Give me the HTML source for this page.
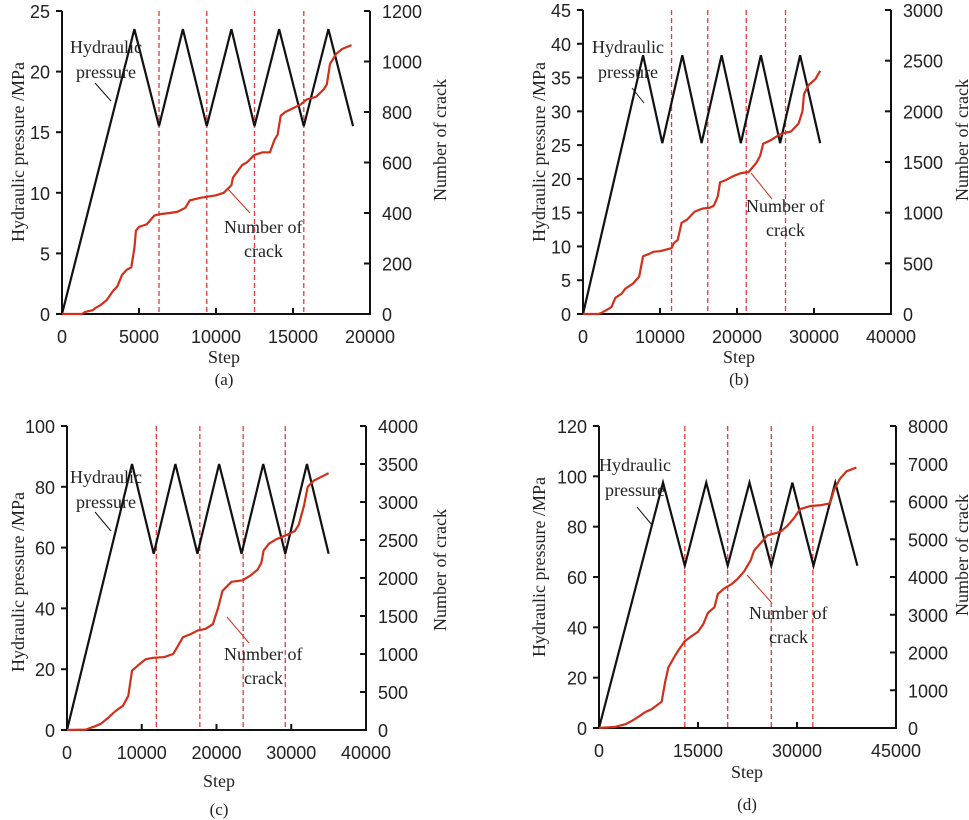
<!DOCTYPE html>
<html><head><meta charset="utf-8"><style>
html,body{margin:0;padding:0;background:#fff;}
svg{display:block;}
.tick{font-family:"Liberation Sans",Arial,sans-serif;font-size:18px;fill:#222;}
.ser{font-family:"Liberation Serif","Times New Roman",serif;fill:#222;}
</style></head><body>
<svg id="fig" width="969" height="820" viewBox="0 0 969 820" xmlns="http://www.w3.org/2000/svg"></svg>
<script>
// ---- data ----
const aPressX=[0,4700,6300,7850,9400,11000,12500,14100,15700,17300,18900];
const aPressY=[0,23.5,15.5,23.5,15.5,23.5,15.5,23.5,15.5,23.5,15.5];
const aCrackX=[0,1300,1500,2000,2200,2500,2900,3300,3600,3900,4200,4500,4700,4800,5000,5500,6000,6300,7000,7500,8000,8300,9000,10000,10500,11000,11100,11700,12000,12500,13000,13500,13800,14000,14200,14500,15000,15500,15900,16500,17000,17200,17400,17800,18200,18800];
const aCrackY=[0,0,8,15,25,35,55,90,110,155,175,185,260,330,345,355,390,395,400,405,420,450,460,470,480,510,540,590,600,630,640,640,690,710,785,800,815,830,850,860,890,910,990,1030,1050,1065];
const aDash=[6300,9400,12500,15700];
const aXTicks=[0,5000,10000,15000,20000];
const aYTicks=[0,5,10,15,20,25];
const aY2Ticks=[0,200,400,600,800,1000,1200];

const bPressX=[0,7800,10300,12900,15400,18000,20500,23100,25600,28200,30800];
const bPressY=[0,38.3,25.3,38.3,25.3,38.3,25.3,38.3,25.3,38.3,25.3];
const bCrackX=[0,2000,2500,3300,3700,4200,5000,5500,6500,7300,7800,8500,9200,10000,11000,11500,11800,12300,12800,13500,14500,15500,16500,17000,17500,17800,18500,19500,20500,21500,22500,23000,23400,24500,25500,26300,27000,28000,28500,28700,29300,30200,30800];
const bCrackY=[0,0,15,50,70,160,200,250,300,370,570,590,615,620,640,650,700,730,900,930,1010,1040,1050,1070,1160,1300,1320,1360,1390,1400,1490,1560,1680,1720,1770,1790,1800,1880,2000,2170,2260,2320,2400];
const bDash=[11500,16200,21200,26300];
const bXTicks=[0,10000,20000,30000,40000];
const bYTicks=[0,5,10,15,20,25,30,35,40,45];
const bY2Ticks=[0,500,1000,1500,2000,2500,3000];

const cPressX=[0,8700,11600,14500,17450,20350,23350,26250,29200,32100,35000];
const cPressY=[0,87.5,58,87.5,58,87.5,58,87.5,58,87.5,58];
const cCrackX=[0,2500,3500,4500,5500,6500,7500,8200,8700,9500,10500,11500,13000,14200,14800,15500,16500,17500,18500,19500,20200,20800,22000,23500,24500,25500,26000,26300,27000,28000,29500,30500,31000,31700,32200,33000,34000,35000];
const cCrackY=[0,5,40,80,160,250,320,450,780,850,930,950,960,1000,1100,1220,1260,1310,1330,1390,1600,1830,1950,1970,2030,2110,2200,2360,2450,2510,2570,2620,2700,2950,3200,3280,3330,3380];
const cDash=[11950,17770,23570,29200];
const cXTicks=[0,10000,20000,30000,40000];
const cYTicks=[0,20,40,60,80,100];
const cY2Ticks=[0,500,1000,1500,2000,2500,3000,3500,4000];

const dPressX=[0,9700,13000,16250,19500,22800,26100,29300,32500,35800,39150];
const dPressY=[0,97.5,64.5,97.5,64.5,97.5,64.5,97.5,64.5,97.5,64.5];
const dCrackX=[0,2500,4000,5000,6000,7000,8000,9500,10000,10500,11300,12000,13000,14000,15000,15800,16500,17500,18000,19000,20000,21000,22000,23000,23500,24500,25500,26500,27500,28500,29500,30500,32000,33500,35000,35600,36500,37500,39000];
const dCrackY=[0,30,100,190,300,420,500,700,1200,1600,1850,2050,2300,2430,2550,2750,3050,3200,3550,3700,3800,3950,4150,4450,4700,4900,5100,5150,5200,5350,5550,5800,5880,5900,5950,6300,6600,6800,6900];
const dDash=[13000,19500,26100,32400];
const dXTicks=[0,15000,30000,45000];
const dYTicks=[0,20,40,60,80,100,120];
const dY2Ticks=[0,1000,2000,3000,4000,5000,6000,7000,8000];

const NS="http://www.w3.org/2000/svg";
const svg=document.getElementById('fig');
function mk(tag,attrs,parent){const e=document.createElementNS(NS,tag);for(const k in attrs)e.setAttribute(k,attrs[k]);(parent||svg).appendChild(e);return e;}

function panel(id,cfg,px,py,cx,cy,dash,xt,yt,y2t){
  const g=mk('g',{});
  
  
  const {x0,x1,y0,y1,xmax,ymax,y2max}=cfg;
  const sx=v=>x0+(v/xmax)*(x1-x0);
  const sy=v=>y0-(v/ymax)*(y0-y1);
  const sy2=v=>y0-(v/y2max)*(y0-y1);
  // dashed lines
  dash.forEach(d=>{const l=mk('line',{x1:sx(d),x2:sx(d),y1:y1,y2:y0,stroke:'#e8393a','stroke-width':1.3,'stroke-dasharray':'5,3'},g);
    
    });
  // axes
  const ax=mk('path',{d:`M${x0},${y1}V${y0}H${x1}V${y1}`,fill:'none',stroke:'#111','stroke-width':2},g);
  
  
  xt.forEach(v=>{mk('line',{x1:sx(v),x2:sx(v),y1:y0,y2:y0-6,stroke:'#111','stroke-width':2},g);
    const t=mk('text',{x:sx(v),y:y0+29,'text-anchor':'middle',class:'tick'},g);t.textContent=v;
    
    });
  yt.forEach(v=>{mk('line',{x1:x0-6,x2:x0,y1:sy(v),y2:sy(v),stroke:'#111','stroke-width':2},g);
    const t=mk('text',{x:x0-12,y:sy(v)+7,'text-anchor':'end',class:'tick'},g);t.textContent=v;
    
    });
  y2t.forEach(v=>{mk('line',{x1:x1-6,x2:x1,y1:sy2(v),y2:sy2(v),stroke:'#111','stroke-width':2},g);
    const t=mk('text',{x:x1+12,y:sy2(v)+7,'text-anchor':'start',class:'tick'},g);t.textContent=v;
    
    });
  // pressure
  const p=mk('polyline',{points:px.map((v,i)=>sx(v)+','+sy(py[i])).join(' '),fill:'none',stroke:'#111','stroke-width':2.2},g);
  
  
  const c=mk('polyline',{points:cx.map((v,i)=>sx(v)+','+sy2(cy[i])).join(' '),fill:'none',stroke:'#d0301a','stroke-width':2.2,'stroke-linejoin':'round'},g);
  
  
  // annotations
  const A=cfg.ann;
  const txt=(x,y,s,n,size)=>{const t=mk('text',{x:x,y:y,class:'ser','font-size':size||18},g);t.textContent=s;return t;};
  txt(A.hx,A.hy,'Hydraulic','pressure-annotation');
  txt(A.hx+6,A.hy+25,'pressure','pressure-annotation');
  mk('line',{x1:A.hl[0],y1:A.hl[1],x2:A.hl[2],y2:A.hl[3],stroke:'#111','stroke-width':1},g);
  txt(A.nx,A.ny,'Number of','crack-annotation');
  txt(A.nx+20,A.ny+24,'crack','crack-annotation');
  mk('line',{x1:A.nl[0],y1:A.nl[1],x2:A.nl[2],y2:A.nl[3],stroke:'#d0301a','stroke-width':1},g);
  // titles
  const lt=mk('text',{x:0,y:0,class:'ser','font-size':18,'text-anchor':'middle',transform:`translate(${cfg.ltx},${cfg.lty}) rotate(-90)`},g);
  lt.textContent='Hydraulic pressure /MPa';
  
  
  const rt=mk('text',{x:0,y:0,class:'ser','font-size':18,'text-anchor':'middle',transform:`translate(${cfg.rtx},${cfg.rty}) rotate(-90)`},g);
  rt.textContent='Number of crack';
  
  
  const st=txt(cfg.sx,cfg.sy,'Step','x-axis-title');st.setAttribute('text-anchor','middle');
  const cap=txt(cfg.sx,cfg.cy,'('+id+')','panel-caption',17);cap.setAttribute('text-anchor','middle');
}

panel('a',{x0:62,x1:370,y0:314,y1:11,xmax:20000,ymax:25,y2max:1200,
  ann:{hx:70,hy:53,hl:[95,83,111,101],nx:224,ny:233,nl:[227,188,250,213]},
  ltx:24,lty:152,rtx:446,rty:140,sx:224,sy:363,cy:385},aPressX,aPressY,aCrackX,aCrackY,aDash,aXTicks,aYTicks,aY2Ticks);
panel('b',{x0:583,x1:891,y0:314,y1:10,xmax:40000,ymax:45,y2max:3000,
  ann:{hx:592,hy:53,hl:[632,88,644,103],nx:746,ny:212,nl:[751,173,772,199]},
  ltx:545,lty:152,rtx:968,rty:140,sx:739,sy:363,cy:385},bPressX,bPressY,bCrackX,bCrackY,bDash,bXTicks,bYTicks,bY2Ticks);
panel('c',{x0:67,x1:366,y0:730,y1:426,xmax:40000,ymax:100,y2max:4000,
  ann:{hx:70,hy:483,hl:[95,512,111,531],nx:224,ny:660,nl:[227,617,249,643]},
  ltx:24,lty:582,rtx:446,rty:570,sx:219,sy:787,cy:815},cPressX,cPressY,cCrackX,cCrackY,cDash,cXTicks,cYTicks,cY2Ticks);
panel('d',{x0:599,x1:896,y0:728,y1:426,xmax:45000,ymax:120,y2max:8000,
  ann:{hx:599,hy:471,hl:[637,507,652,525],nx:749,ny:619,nl:[747,575,771,602]},
  ltx:545,lty:567,rtx:968,rty:555,sx:747,sy:778,cy:810},dPressX,dPressY,dCrackX,dCrackY,dDash,dXTicks,dYTicks,dY2Ticks);
</script>
</body></html>
